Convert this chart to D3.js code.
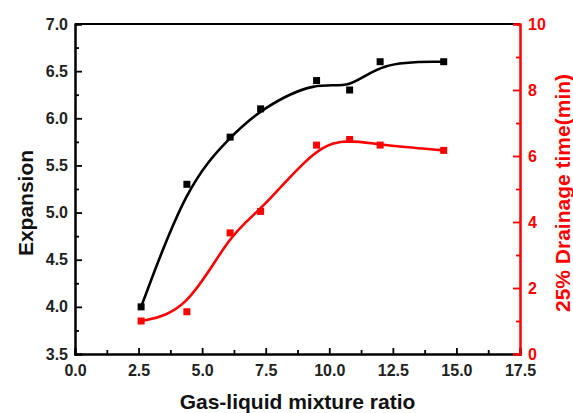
<!DOCTYPE html>
<html>
<head>
<meta charset="utf-8">
<script src="https://cdn.jsdelivr.net/npm/d3@7"></script>
<style>
  html, body { margin: 0; padding: 0; background: #fff; }
  svg { display: block; }
  text { font-family: "Liberation Sans", Arial, sans-serif; font-weight: bold; }
</style>
</head>
<body>
<svg id="chart" width="573" height="413"></svg>
<script>
// ---- data ----
const ratio = [2.6, 4.4, 6.1, 7.3, 9.5, 10.8, 12.0, 14.5];
const expansion = [4.0, 5.3, 5.8, 6.1, 6.4, 6.3, 6.6, 6.6];
const drainage = [1.0, 1.28, 3.67, 4.32, 6.33, 6.5, 6.33, 6.17];
const xTicks = [0, 2.5, 5, 7.5, 10, 12.5, 15, 17.5];
const yLeftTicks = [3.5, 4.0, 4.5, 5.0, 5.5, 6.0, 6.5, 7.0];
const yRightTicks = [0, 2, 4, 6, 8, 10];
const xTitle = "Gas-liquid mixture ratio";
const yLeftTitle = "Expansion";
const yRightTitle = "25% Drainage time(min)";

const RED = "#ff0000";
const svg = d3.select("#chart");
const m = { left: 75, right: 520, top: 24, bottom: 354 };

const x = d3.scaleLinear().domain([0, 17.5]).range([m.left, m.right]);
const yL = d3.scaleLinear().domain([3.5, 7.0]).range([m.bottom, m.top]);
const yR = d3.scaleLinear().domain([0, 10]).range([m.bottom, m.top]);

const minorX = d3.range(0, 17.5001, 1.25).filter(v => Math.abs(v / 2.5 - Math.round(v / 2.5)) > 1e-6);
const minorL = d3.range(3.5, 7.0001, 0.25).filter(v => Math.abs(v / 0.5 - Math.round(v / 0.5)) > 1e-6);
const minorR = d3.range(0, 10.0001, 1).filter(v => v % 2 !== 0);

// top border
svg.append("line").attr("x1", m.left).attr("x2", m.right).attr("y1", m.top).attr("y2", m.top)
  .attr("stroke", "#000").attr("stroke-width", 2);

// bottom axis (ticks inward)
const gx = svg.append("g").attr("transform", `translate(0,${m.bottom})`);
gx.call(d3.axisBottom(x).tickValues(xTicks).tickSize(-6).tickFormat(d3.format(".1f")))
gx.append("g").call(d3.axisBottom(x).tickValues(minorX).tickSize(-4).tickFormat(""));
gx.selectAll("path.domain").attr("stroke", "#000").attr("stroke-width", 2);
gx.selectAll(".tick line").attr("stroke", "#000").attr("stroke-width", 1.8);
gx.selectAll(".tick text").attr("y", 11).attr("dy", "0.71em")
  .attr("font-size", 16).attr("fill", "#222");

// left axis (ticks inward)
const gl = svg.append("g").attr("transform", `translate(${m.left},0)`);
gl.call(d3.axisLeft(yL).tickValues(yLeftTicks).tickSize(-7).tickFormat(d3.format(".1f")));
gl.append("g").call(d3.axisLeft(yL).tickValues(minorL).tickSize(-4).tickFormat(""));
gl.selectAll("path.domain").attr("stroke", "#000").attr("stroke-width", 2);
gl.selectAll(".tick line").attr("stroke", "#000").attr("stroke-width", 1.8);
gl.selectAll(".tick text").attr("x", -7).attr("font-size", 16).attr("fill", "#222");

// right axis (red, ticks inward)
const gr = svg.append("g").attr("transform", `translate(${m.right},0)`);
gr.call(d3.axisRight(yR).tickValues(yRightTicks).tickSize(-7).tickFormat(d3.format("d")));
gr.append("g").call(d3.axisRight(yR).tickValues(minorR).tickSize(-4).tickFormat(""));
gr.selectAll("path.domain").attr("stroke", RED).attr("stroke-width", 2);
gr.selectAll(".tick line").attr("stroke", RED).attr("stroke-width", 1.8);
gr.selectAll(".tick text").attr("x", 8).attr("font-size", 16).attr("fill", RED);
gr.selectAll("text").attr("text-anchor", "start");

// titles
svg.append("text").attr("x", (m.left + m.right) / 2).attr("y", 409)
  .attr("text-anchor", "middle").attr("font-size", 21).attr("fill", "#111").text(xTitle);
svg.append("text").attr("transform", "translate(33,203) rotate(-90)")
  .attr("text-anchor", "middle").attr("font-size", 21).attr("fill", "#111").text(yLeftTitle);
svg.append("text").attr("transform", "translate(570,193) rotate(-90)")
  .attr("text-anchor", "middle").attr("font-size", 21).attr("fill", RED).text(yRightTitle);

// curves
const expData = ratio.map((r, i) => ({ x: r, y: expansion[i] }));
const drnData = ratio.map((r, i) => ({ x: r, y: drainage[i] }));

const lineL = d3.line().x(d => x(d.x)).y(d => yL(d.y)).curve(d3.curveBasis);
const lineR = d3.line().x(d => x(d.x)).y(d => yR(d.y)).curve(d3.curveBasis);

svg.append("path").datum(expData).attr("d", lineL).attr("fill", "none")
  .attr("stroke", "#000").attr("stroke-width", 2.6);
svg.append("path").datum(drnData).attr("d", lineR).attr("fill", "none")
  .attr("stroke", RED).attr("stroke-width", 2.6);

// markers
const s = 7;
svg.append("g").selectAll("rect").data(expData).join("rect")
  .attr("x", d => x(d.x) - s / 2).attr("y", d => yL(d.y) - s / 2)
  .attr("width", s).attr("height", s).attr("fill", "#000");
svg.append("g").selectAll("rect").data(drnData).join("rect")
  .attr("x", d => x(d.x) - s / 2).attr("y", d => yR(d.y) - s / 2)
  .attr("width", s).attr("height", s).attr("fill", RED);
</script>
</body>
</html>
